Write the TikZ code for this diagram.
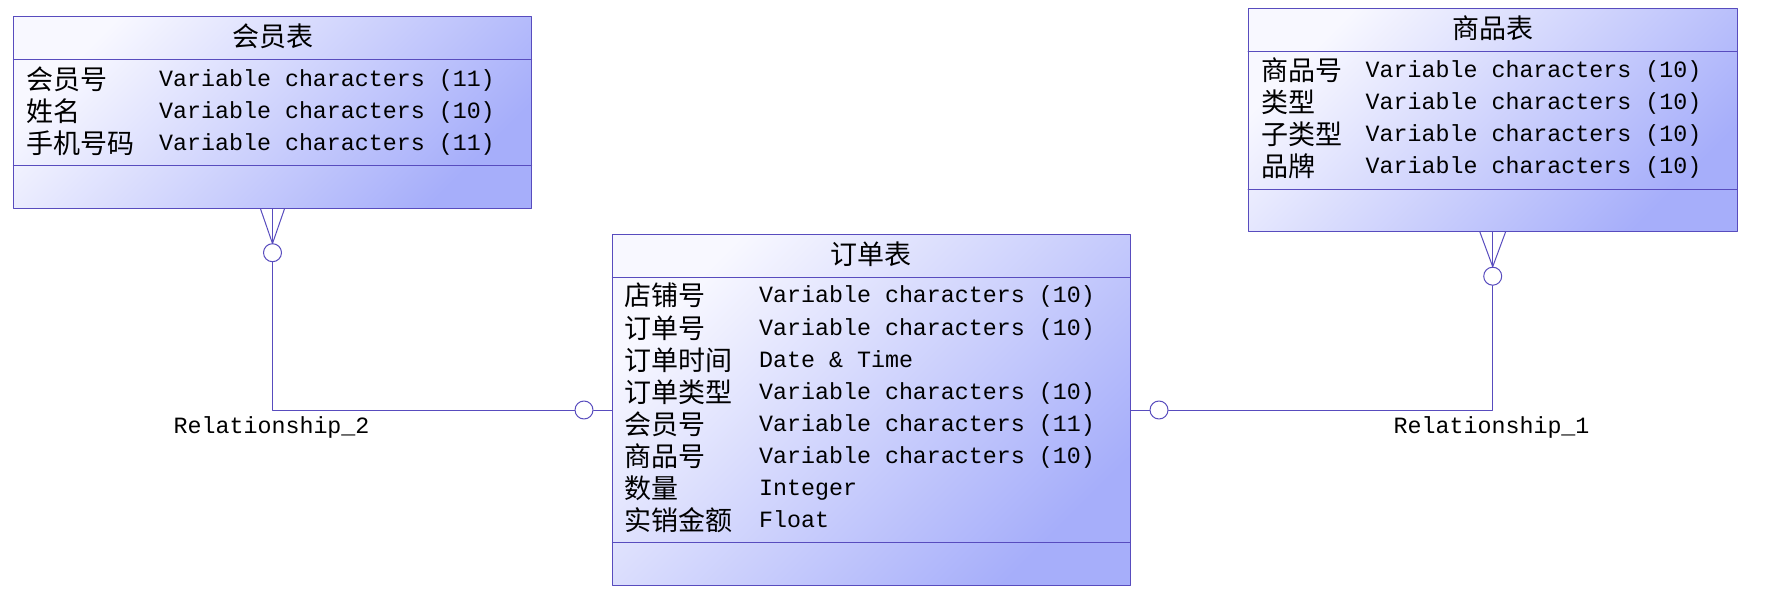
\documentclass[tikz,border=0pt]{standalone}
\usepackage{fontspec}
\setmonofont{Liberation Mono}
\newfontfamily\cjkfont{Noto Sans CJK SC}
\definecolor{erline}{RGB}{88,76,190}
\definecolor{erlight}{RGB}{248,248,255}
\definecolor{erdark}{RGB}{166,174,250}
\tikzset{
	entity/.style={draw=erline,line width=1pt,top color=erlight,bottom color=erdark,shading angle=45,inner sep=0pt},
	rel/.style={draw=erline,line width=1pt},
	zero/.style={circle,draw=erline,fill=white,line width=1pt,minimum size=18pt,inner sep=0pt},
	fname/.style={anchor=west,inner sep=0pt,font=\cjkfont\fontsize{27}{30}\selectfont,text height=23pt,text depth=3pt},
	ftype/.style={anchor=west,inner sep=0pt,font=\ttfamily\fontsize{23.3}{28}\selectfont,text height=20pt,text depth=6pt},
	ftitle/.style={fname,anchor=center}
}

\begin{document}
\begin{tikzpicture}[line cap=round,line join=round,x=1pt,y=-1pt]
		\useasboundingbox (0,0) rectangle (1771,609);
		% tables
		\node[entity,minimum width=518.4pt,minimum height=192.3pt] (huiyuan) at (272.5,112.2) {};
		\node[entity,minimum width=518pt,minimum height=351pt] (dingdan) at (871.3,410) {};
		\node[entity,minimum width=489pt,minimum height=222.7pt] (shangpin) at (1492.7,119.7) {};
		\draw[rel] (13.3,59.3) -- (531.7,59.3);
		\draw[rel] (13.3,165.3) -- (531.7,165.3);
		\draw[rel] (612.3,277.3) -- (1130.3,277.3);
		\draw[rel] (612.3,542.3) -- (1130.3,542.3);
		\draw[rel] (1248.2,51.7) -- (1737.2,51.7);
		\draw[rel] (1248.2,189.3) -- (1737.2,189.3);
		% 会员表
		\node[ftitle] (hy-title) at (272.5,37) {会员表};
		\node[fname] (hy-n1) at (26.5,79.5) {会员号};
		\node[ftype] (hy-t1) at (159,79.5) {Variable characters (11)};
		\node[fname] (hy-n2) at (26.5,111.3) {姓名};
		\node[ftype] (hy-t2) at (159,111.3) {Variable characters (10)};
		\node[fname] (hy-n3) at (26.5,143.1) {手机号码};
		\node[ftype] (hy-t3) at (159,143.1) {Variable characters (11)};
		% 订单表
		\node[ftitle] (dd-title) at (871.3,254.5) {订单表};
		\node[fname] (dd-n1) at (624.5,296) {店铺号};
		\node[ftype] (dd-t1) at (759,296) {Variable characters (10)};
		\node[fname] (dd-n2) at (624.5,328) {订单号};
		\node[ftype] (dd-t2) at (759,328) {Variable characters (10)};
		\node[fname] (dd-n3) at (624.5,360) {订单时间};
		\node[ftype] (dd-t3) at (759,360) {Date \& Time};
		\node[fname] (dd-n4) at (624.5,392) {订单类型};
		\node[ftype] (dd-t4) at (759,392) {Variable characters (10)};
		\node[fname] (dd-n5) at (624.5,424) {会员号};
		\node[ftype] (dd-t5) at (759,424) {Variable characters (11)};
		\node[fname] (dd-n6) at (624.5,456) {商品号};
		\node[ftype] (dd-t6) at (759,456) {Variable characters (10)};
		\node[fname] (dd-n7) at (624.5,488) {数量};
		\node[ftype] (dd-t7) at (759,488) {Integer};
		\node[fname] (dd-n8) at (624.5,520) {实销金额};
		\node[ftype] (dd-t8) at (759,520) {Float};
		% 商品表
		\node[ftitle] (sp-title) at (1492.7,29) {商品表};
		\node[fname] (sp-n1) at (1261,70.7) {商品号};
		\node[ftype] (sp-t1) at (1365.5,70.7) {Variable characters (10)};
		\node[fname] (sp-n2) at (1261,102.5) {类型};
		\node[ftype] (sp-t2) at (1365.5,102.5) {Variable characters (10)};
		\node[fname] (sp-n3) at (1261,134.3) {子类型};
		\node[ftype] (sp-t3) at (1365.5,134.3) {Variable characters (10)};
		\node[fname] (sp-n4) at (1261,166.1) {品牌};
		\node[ftype] (sp-t4) at (1365.5,166.1) {Variable characters (10)};
		% Relationship_2
		\coordinate (r2-tip) at (272.5,243.5);
		\node[zero] (r2-o1) at (272.5,252.7) {};
		\node[zero] (r2-o2) at (584,410) {};
		\draw[rel] ([xshift=-12pt]huiyuan.south) -- (r2-tip) -- ([xshift=12pt]huiyuan.south);
		\draw[rel] (huiyuan.south) -- (r2-tip);
		\draw[rel] (r2-o1.south) |- (r2-o2.west);
		\draw[rel] (r2-o2.east) -- (dingdan.west);
		\node[ftype] (r2-label) at (173.5,426.7) {Relationship\_2};
		% Relationship_1
		\coordinate (r1-tip) at (1492.7,266.7);
		\node[zero] (r1-o1) at (1492.7,276.2) {};
		\node[zero] (r1-o2) at (1159,410) {};
		\draw[rel] ([xshift=-13pt]shangpin.south) -- (r1-tip) -- ([xshift=13pt]shangpin.south);
		\draw[rel] (shangpin.south) -- (r1-tip);
		\draw[rel] (dingdan.east) -- (r1-o2.west);
		\draw[rel] (r1-o2.east) -| (r1-o1.south);
		\node[ftype] (r1-label) at (1393.5,426.7) {Relationship\_1};
\end{tikzpicture}
\end{document}
